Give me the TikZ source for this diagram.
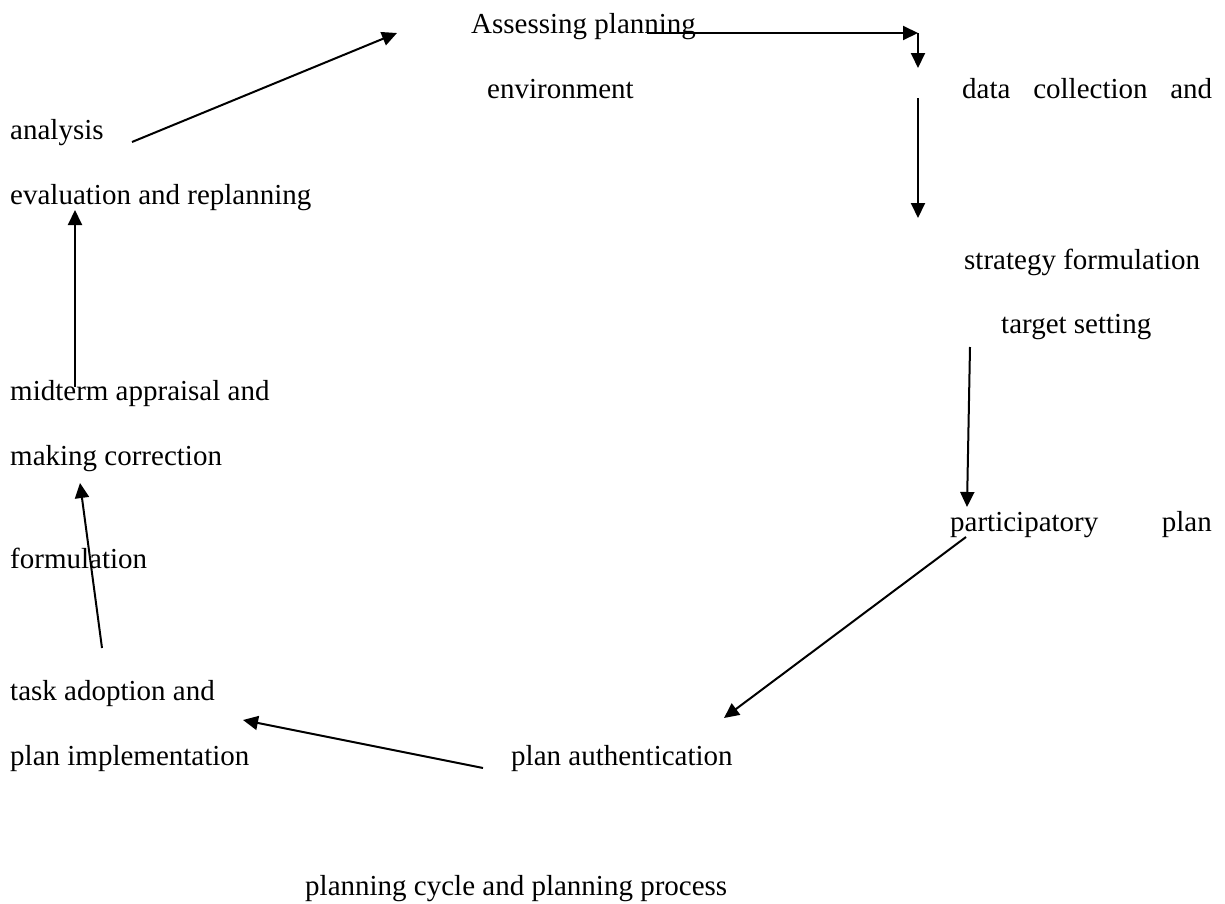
\documentclass[tikz,border=0pt]{standalone}
\usepackage{fontspec}
\setmainfont{Liberation Serif}
\usetikzlibrary{arrows.meta}
\begin{document}
\begin{tikzpicture}[x=1bp,y=-1bp,
  lbl/.style={anchor=base west,inner sep=0pt,font=\fontsize{29bp}{35bp}\selectfont},
  arr/.style={line width=2bp,-{Triangle[length=15bp,width=14bp]}}]
\useasboundingbox (0,0) rectangle (1225,904);
\fill[white] (0,0) rectangle (1225,904);
% texts
\node[lbl] (assess) at (471,33) {Assessing planning};
\node[lbl] (env) at (487,98) {environment};
\node[lbl] (data) at (962,98) {\makebox[250bp][s]{data collection and}};
\node[lbl] (analysis) at (10,139) {analysis};
\node[lbl] (eval) at (10,204) {evaluation and replanning};
\node[lbl] (strategy) at (964,269) {strategy formulation};
\node[lbl] (target) at (1001,333) {target setting};
\node[lbl] (midterm) at (10,400) {midterm appraisal and};
\node[lbl] (making) at (10,465) {making correction};
\node[lbl] (particip) at (950,531) {participatory};
\node[lbl,anchor=base east] (plan) at (1212,531) {plan};
\node[lbl] (formul) at (10,568) {formulation};
\node[lbl] (task) at (10,700) {task adoption and};
\node[lbl] (planimpl) at (10,765) {plan implementation};
\node[lbl] (planauth) at (511,765) {plan authentication};
\node[lbl] (caption) at (305,895) {planning cycle and planning process};
% connector end points
\coordinate (a1s) at (132,142); \coordinate (a1e) at (397,33);
\coordinate (a2s) at (647,33);  \coordinate (a2c) at (918,33); \coordinate (a2e) at (918,68);
\coordinate (a3s) at (918,98);  \coordinate (a3e) at (918,218);
\coordinate (a4s) at (970,347); \coordinate (a4e) at (967,507);
\coordinate (a5s) at (966,537); \coordinate (a5e) at (724,718);
\coordinate (a6s) at (483,768); \coordinate (a6e) at (243,720);
\coordinate (a7s) at (102,648); \coordinate (a7e) at (80,483);
\coordinate (a8s) at (75,387);  \coordinate (a8e) at (75,210);
% connectors
\draw[arr] (a1s) -- (a1e);
\draw[arr] (a2s) -- (a2c);
\draw[arr] (a2c) -- (a2e);
\draw[arr] (a3s) -- (a3e);
\draw[arr] (a4s) -- (a4e);
\draw[arr] (a5s) -- (a5e);
\draw[arr] (a6s) -- (a6e);
\draw[arr] (a7s) -- (a7e);
\draw[arr] (a8s) -- (a8e);
\end{tikzpicture}
\end{document}
